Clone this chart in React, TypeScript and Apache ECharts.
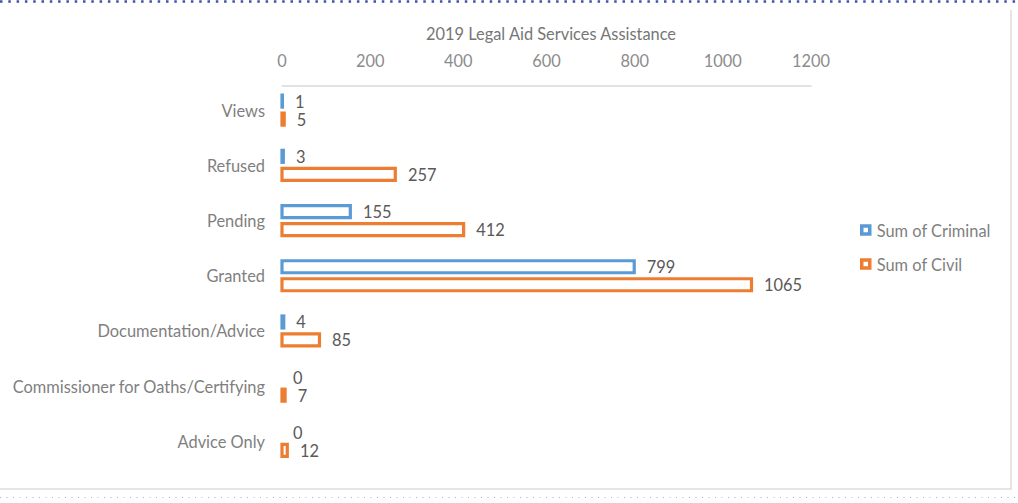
import React, { useEffect, useRef } from "react";
import * as echarts from "echarts";

const categories = [
  "Views",
  "Refused",
  "Pending",
  "Granted",
  "Documentation/Advice",
  "Commissioner for Oaths/Certifying",
  "Advice Only",
];
const criminal = [1, 3, 155, 799, 4, 0, 0];
const civil = [5, 257, 412, 1065, 85, 7, 12];
const seriesNames = ["Sum of Criminal", "Sum of Civil"];
const title = "2019 Legal Aid Services Assistance";

const BLUE = "#5B9BD5";
const ORANGE = "#ED7D31";
const FONT = "Lato, 'Open Sans', sans-serif";
const FS = 16.4;
const BORDER = 3.2;
const BAR_H = 12;

export default function App() {
  const ref = useRef<HTMLDivElement>(null);
  useEffect(() => {
    if (!ref.current) return;
    const chart = echarts.init(ref.current, undefined, { renderer: "svg" });
    const mkSeries = (name: string, values: number[], color: string, offset: number) => ({
      name,
      type: "custom",
      clip: false,
      encode: { x: 0, y: 1 },
      data: values.map((v, i) => [v, i]),
      itemStyle: { color: "#ffffff", borderColor: color, borderWidth: 3.5 },
      renderItem: (_params: any, api: any) => {
        const v = api.value(0);
        const c = api.value(1);
        const p0 = api.coord([0, c]);
        const p1 = api.coord([v, c]);
        const yc = p0[1] + offset;
        return {
          type: "rect",
          shape: { x: p0[0], y: yc - BAR_H / 2, width: p1[0] - p0[0], height: BAR_H },
          style: { fill: "#ffffff", stroke: color, lineWidth: v === 0 ? 0 : BORDER },
          textContent: {
            style: { text: String(v), fill: "#595959", fontSize: FS, fontFamily: FONT },
          },
          textConfig: { position: "right", distance: 11 },
        };
      },
    });
    chart.setOption({
      animation: false,
      textStyle: { fontFamily: FONT },
      title: {
        text: title,
        left: 546,
        textAlign: "center",
        top: 20,
        textStyle: { color: "#767676", fontSize: FS, fontWeight: "normal", fontFamily: FONT },
      },
      legend: {
        orient: "vertical",
        left: 855,
        top: 217,
        itemWidth: 8,
        itemHeight: 8,
        itemGap: 18,
        icon: "rect",
        textStyle: { color: "#7f7f7f", fontSize: FS, fontFamily: FONT, padding: [0, 0, 0, 2] },
        data: [
          { name: seriesNames[0], itemStyle: { color: "#ffffff", borderColor: BLUE, borderWidth: 3.5 } },
          { name: seriesNames[1], itemStyle: { color: "#ffffff", borderColor: ORANGE, borderWidth: 3.5 } },
        ],
      },
      grid: { left: 282, right: 207, top: 82.5, bottom: 34, containLabel: false },
      xAxis: {
        type: "value",
        position: "top",
        offset: -3,
        min: 0,
        max: 1200,
        interval: 200,
        axisLine: { show: true, lineStyle: { color: "#d9d9d9", width: 1.5 } },
        axisTick: { show: false },
        splitLine: { show: false },
        axisLabel: {
          color: "#8c8c8c",
          fontSize: FS,
          margin: 17,
          fontFamily: FONT,
          formatter: (v: number) => String(v),
        },
      },
      yAxis: {
        type: "category",
        inverse: true,
        data: categories,
        axisLine: { show: false },
        axisTick: { show: false },
        axisLabel: { color: "#7f7f7f", fontSize: FS, margin: 17, fontFamily: FONT },
      },
      series: [
        mkSeries(seriesNames[0], criminal, BLUE, -9),
        mkSeries(seriesNames[1], civil, ORANGE, 9),
      ],
      graphic: [
        {
          type: "line",
          shape: { x1: 0, y1: 1.5, x2: 1018, y2: 1.5 },
          style: { stroke: "#3b55a5", lineWidth: 2.5, lineDash: [2.5, 5.8] },
          silent: true,
        },
        {
          type: "line",
          shape: { x1: 1011, y1: 10, x2: 1011, y2: 489 },
          style: { stroke: "#dcdcdc", lineWidth: 1.5 },
          silent: true,
        },
        {
          type: "line",
          shape: { x1: 0, y1: 489, x2: 1011.75, y2: 489 },
          style: { stroke: "#dcdcdc", lineWidth: 1.5 },
          silent: true,
        },
        {
          type: "line",
          shape: { x1: 0, y1: 497.5, x2: 1018, y2: 497.5 },
          style: { stroke: "#a9a9d6", lineWidth: 1, lineDash: [1, 5.5] },
          silent: true,
        },
      ],
    });
    return () => chart.dispose();
  }, []);
  return (
    <div
      ref={ref}
      style={{ position: "fixed", left: 0, top: 0, width: 1018, height: 503, background: "#ffffff" }}
    />
  );
}
